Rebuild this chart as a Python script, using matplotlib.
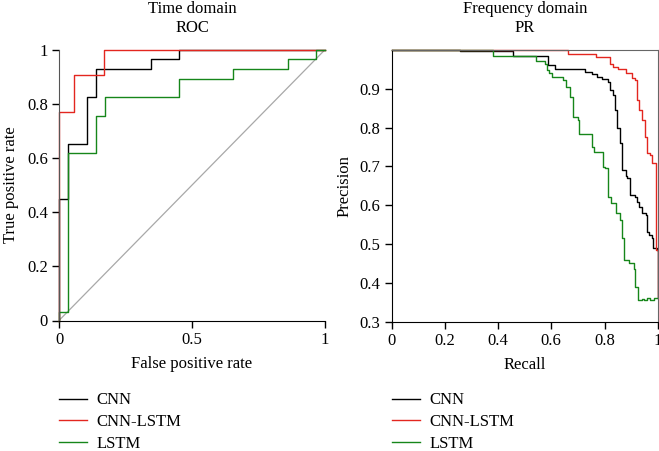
import numpy as np
import matplotlib
matplotlib.use("Agg")
import matplotlib.pyplot as plt

# ROC curve vertices (time domain)
roc_cnn_fpr = [0, 0, 0.034, 0.034, 0.104, 0.104, 0.139, 0.139, 0.346, 0.346, 0.45, 0.45, 1.0]
roc_cnn_tpr = [0, 0.448, 0.448, 0.653, 0.653, 0.827, 0.827, 0.930, 0.930, 0.964, 0.964, 1.0, 1.0]

roc_cnnlstm_fpr = [0, 0, 0.055, 0.055, 0.169, 0.169, 1.0]
roc_cnnlstm_tpr = [0, 0.769, 0.769, 0.906, 0.906, 1.0, 1.0]

roc_lstm_fpr = [0, 0, 0.034, 0.034, 0.139, 0.139, 0.174, 0.174, 0.45, 0.45, 0.655, 0.655,
                0.862, 0.862, 0.966, 0.966, 1.0]
roc_lstm_tpr = [0, 0.032, 0.032, 0.619, 0.619, 0.755, 0.755, 0.826, 0.826, 0.893, 0.893, 0.928,
                0.928, 0.964, 0.964, 1.0, 1.0]

# PR curve breakpoints (frequency domain), precision held until next recall
pr_cnn_recall = [0, 0.257, 0.457, 0.589, 0.614, 0.727, 0.752, 0.771, 0.79, 0.815, 0.821, 0.831,
                 0.84, 0.848, 0.858, 0.865, 0.881, 0.886, 0.896, 0.915, 0.923, 0.931, 0.94,
                 0.956, 0.959, 0.968, 0.977, 0.984, 0.996, 1.0]
pr_cnn_precision = [1.0, 0.998, 0.984, 0.961, 0.951, 0.944, 0.938, 0.931, 0.924, 0.918, 0.897,
                    0.884, 0.845, 0.80, 0.759, 0.691, 0.675, 0.669, 0.626, 0.622, 0.609, 0.596,
                    0.579, 0.575, 0.532, 0.523, 0.515, 0.489, 0.485, 0.36]

pr_cnnlstm_recall = [0, 0.664, 0.768, 0.821, 0.831, 0.852, 0.881, 0.902, 0.914, 0.921, 0.931,
                     0.94, 0.952, 0.959, 0.971, 0.977, 0.994, 1.0]
pr_cnnlstm_precision = [1.0, 0.989, 0.981, 0.964, 0.957, 0.95, 0.94, 0.927, 0.922, 0.871, 0.845,
                        0.82, 0.776, 0.734, 0.73, 0.708, 0.485, 0.36]

pr_lstm_recall = [0, 0.38, 0.543, 0.576, 0.585, 0.593, 0.603, 0.645, 0.654, 0.670, 0.68, 0.702,
                  0.705, 0.752, 0.760, 0.793, 0.802, 0.814, 0.826, 0.843, 0.858, 0.865, 0.873,
                  0.893, 0.911, 0.915, 0.927, 0.94, 0.95, 0.96, 0.97, 0.985, 1.0]
pr_lstm_precision = [1.0, 0.984, 0.972, 0.964, 0.948, 0.940, 0.929, 0.922, 0.905, 0.879, 0.828,
                     0.819, 0.783, 0.749, 0.738, 0.699, 0.695, 0.622, 0.606, 0.581, 0.562, 0.515,
                     0.459, 0.450, 0.437, 0.39, 0.356, 0.359, 0.355, 0.36, 0.356, 0.36, 0.36]

labels = ["CNN", "CNN-LSTM", "LSTM"]
colors = ["#000000", "#e3261f", "#16861a"]

plt.rcParams['font.family'] = ['Liberation Serif', 'DejaVu Serif']
plt.rcParams['font.size'] = 12

fig = plt.figure(figsize=(6.59, 4.51), dpi=100)
W, H = 659, 451
ax1 = fig.add_axes([59 / W, 1 - 320.5 / H, 266 / W, 270.8 / H])
ax2 = fig.add_axes([391.7 / W, 1 - 321.7 / H, 266 / W, 271.8 / H])

# --- ROC ---
ax1.plot([0, 1], [0, 1], color="#a8a8a8", lw=0.9)
for fpr, tpr, lab, c in zip([roc_cnn_fpr, roc_cnnlstm_fpr, roc_lstm_fpr],
                            [roc_cnn_tpr, roc_cnnlstm_tpr, roc_lstm_tpr], labels, colors):
    ax1.plot(fpr, tpr, color=c, lw=1.0, label=lab, clip_on=False)
ax1.set_xlim(0, 1)
ax1.set_ylim(0, 1)
ax1.set_xticks([0, 0.5, 1])
ax1.set_xticklabels(["0", "0.5", "1"])
ax1.set_yticks([0, 0.2, 0.4, 0.6, 0.8, 1])
ax1.set_yticklabels(["0", "0.2", "0.4", "0.6", "0.8", "1"])
ax1.spines['top'].set_visible(False)
ax1.spines['right'].set_visible(False)
ax1.spines['left'].set_color("#555555")
ax1.set_xlabel("False positive rate", labelpad=6)
ax1.set_ylabel("True positive rate", labelpad=6)
ax1.set_title("Time domain\nROC", pad=13, fontsize=12)

# --- PR ---
for rec, prec, lab, c in zip([pr_cnn_recall, pr_cnnlstm_recall, pr_lstm_recall],
                             [pr_cnn_precision, pr_cnnlstm_precision, pr_lstm_precision],
                             labels, colors):
    ax2.step(rec, prec, where='post', color=c, lw=1.0, label=lab, clip_on=False)
ax2.set_xlim(0, 1)
ax2.set_ylim(0.3, 1.0)
ax2.set_xticks([0, 0.2, 0.4, 0.6, 0.8, 1])
ax2.set_xticklabels(["0", "0.2", "0.4", "0.6", "0.8", "1"])
ax2.set_yticks([0.3, 0.4, 0.5, 0.6, 0.7, 0.8, 0.9])
ax2.set_yticklabels(["0.3", "0.4", "0.5", "0.6", "0.7", "0.8", "0.9"])
ax2.spines['top'].set_color("#666666")
ax2.spines['right'].set_color("#666666")
ax2.set_xlabel("Recall", labelpad=6)
ax2.set_ylabel("Precision", labelpad=5)
ax2.set_title("Frequency domain\nPR", pad=13, fontsize=12)

for ax in (ax1, ax2):
    ax.tick_params(direction='out', length=5, width=1, pad=3)

for ax, x0 in ((ax1, 59), (ax2, 392)):
    h, l = ax.get_legend_handles_labels()
    fig.legend(h, l, loc='upper left', bbox_to_anchor=(x0 / W, 1 - 392.5 / H),
               frameon=False, borderpad=0, borderaxespad=0, handlelength=1.65,
               handletextpad=0.6, labelspacing=0.33, fontsize=12)

fig.savefig("out.png", dpi=100)
